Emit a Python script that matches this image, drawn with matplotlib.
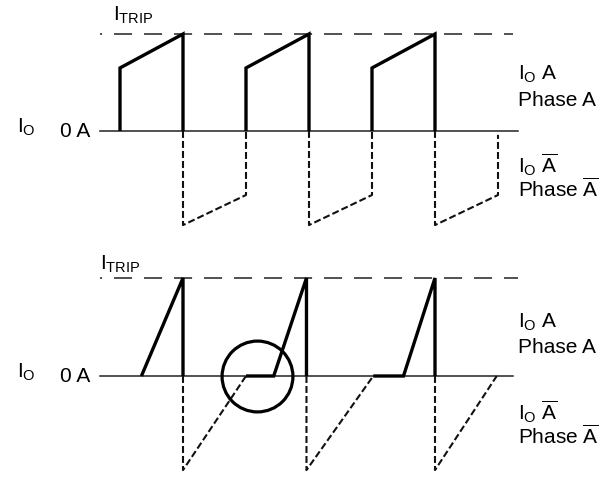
import numpy as np
import matplotlib.pyplot as plt

plt.rcParams['font.family'] = ['Liberation Sans', 'DejaVu Sans']
plt.rcParams['mathtext.fontset'] = 'custom'
plt.rcParams['mathtext.rm'] = 'Liberation Sans'
plt.rcParams['mathtext.it'] = 'Liberation Sans'
plt.rcParams['lines.scale_dashes'] = False

nan = np.nan
# time in switching periods, current relative to I_TRIP
# upper diagram
top_a_t = [0.5, 0.5, 1.0, 1.0, nan, 1.5, 1.5, 2.0, 2.0, nan, 2.5, 2.5, 3.0, 3.0]
top_a_i = [0, 0.65, 1.0, 0, nan, 0, 0.65, 1.0, 0, nan, 0, 0.65, 1.0, 0]
top_abar_t = [1.0, 1.0, 1.5, 1.5, nan, 2.0, 2.0, 2.5, 2.5, nan, 3.0, 3.0, 3.5, 3.5]
top_abar_i = [0, -0.97, -0.66, 0, nan, 0, -0.97, -0.66, 0, nan, 0, -0.97, -0.66, -0.04]
top_zero = [0.34, 3.66]
top_trip = [0.34, 3.62]

# lower diagram
bot_a_t = [0.67, 1.0, 1.0, nan, 1.5, 1.72, 1.98, 1.98, nan, 2.51, 2.75, 3.0, 3.0]
bot_a_i = [0, 1.0, 0, nan, 0, 0, 1.0, 0, nan, 0, 0, 1.0, 0]
bot_abar_t = [1.0, 1.0, 1.5, nan, 1.98, 1.98, 2.51, nan, 3.0, 3.0, 3.49]
bot_abar_i = [0, -0.96, 0, nan, 0, -0.96, 0, nan, 0, -0.96, 0]
bot_zero = [0.34, 3.62]
bot_trip = [0.34, 3.66]
circle_t = [1.587]
circle_i = [0]

fig = plt.figure(figsize=(6.08, 4.78), dpi=100)
ax1 = fig.add_axes([0, 238 / 478, 1, 240 / 478])
ax2 = fig.add_axes([0, 0, 1, 238 / 478])

xlim = (-57 / 126, (608 - 57) / 126)
ax1.set_xlim(xlim)
ax1.set_ylim((131 - 240) / 97, 131 / 97)
ax2.set_xlim(xlim)
ax2.set_ylim((376 - 478) / 98, (376 - 240) / 98)

fs = 15
thick = dict(color='black', lw=2.4, solid_joinstyle='miter', solid_capstyle='butt')
dash = dict(color='#111111', lw=1.5, linestyle=(0, (5, 2.2)))
trip = dict(color='#222222', lw=1.1, linestyle=(11.5, (13, 8.6)))

def draw(ax, zero, trip_x, a_t, a_i, abar_t, abar_i, trip_lbl, lbl_y):
    ax.plot(zero, [0, 0], color='#222222', lw=1.1)
    ax.plot(trip_x, [1, 1], **trip)
    ax.plot(abar_t, abar_i, **dash)
    ax.plot(a_t, a_i, **thick)
    ax.text(trip_lbl[0], trip_lbl[1], r'I$_{\mathrm{TRIP}}$', fontsize=fs, va='baseline')
    ax.text(-0.317, -0.02, r'I$_{\mathrm{O}}$', fontsize=fs, va='baseline')
    ax.text(0.024, -0.062, '0 A', fontsize=fs, va='baseline')
    ax.text(3.659, lbl_y[0], r'I$_{\mathrm{O}}$ A', fontsize=fs, va='baseline')
    ax.text(3.659, lbl_y[1], 'Phase A', fontsize=fs, va='baseline')
    ax.text(3.659, lbl_y[2], r'I$_{\mathrm{O}}$ $\overline{\mathrm{A}}$', fontsize=fs, va='baseline')
    ax.text(3.659, lbl_y[3], r'Phase $\overline{\mathrm{A}}$', fontsize=fs, va='baseline')
    ax.axis('off')

draw(ax1, top_zero, top_trip, top_a_t, top_a_i, top_abar_t, top_abar_i,
     (0.444, 1.134), (0.526, 0.258, -0.433, -0.68))
draw(ax2, bot_zero, bot_trip, bot_a_t, bot_a_i, bot_abar_t, bot_abar_i,
     (0.341, 1.082), (0.49, 0.235, -0.449, -0.694))
ax2.plot(circle_t, circle_i, 'o', ms=51, mfc='none', mec='black', mew=2.3)

fig.savefig('out.png', dpi=100)
